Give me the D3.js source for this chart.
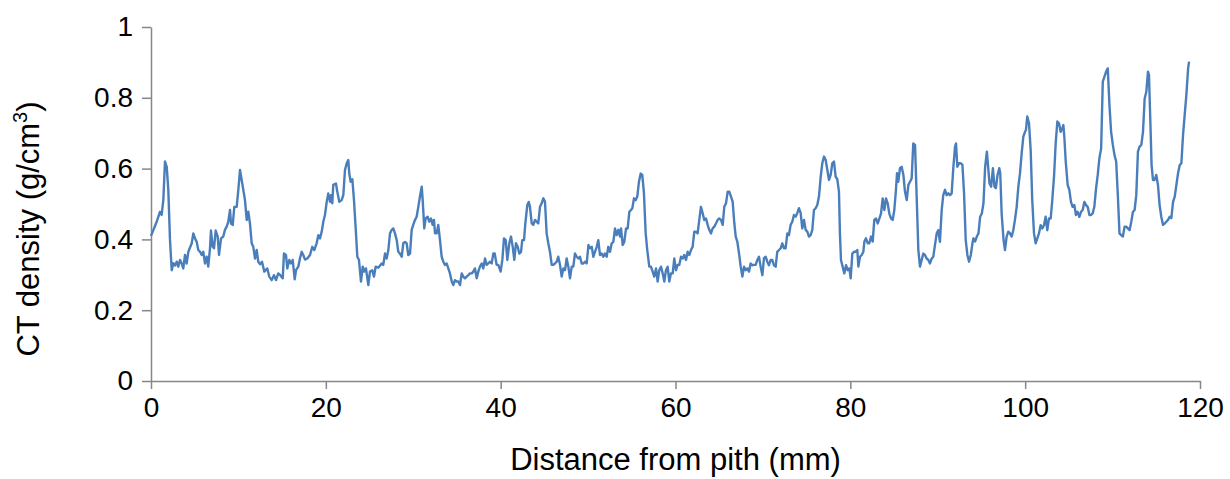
<!DOCTYPE html>
<html>
<head>
<meta charset="utf-8">
<script src="https://cdn.jsdelivr.net/npm/d3@7"></script>
<style>
  html, body { margin: 0; padding: 0; background: #fff; }
  svg { display: block; }
  text { font-family: "Liberation Sans", Arial, sans-serif; fill: #000; }
</style>
</head>
<body>
<svg id="chart" width="1230" height="479"></svg>
<script>
const distance = [0.00,0.65,1.03,1.22,1.41,1.60,1.80,1.98,2.17,2.37,2.55,2.75,2.94,3.12,3.32,3.51,3.69,3.89,4.08,4.27,4.66,4.84,5.03,5.23,5.41,5.61,5.80,5.98,6.18,6.37,6.55,6.75,6.86,7.06,7.21,7.40,7.63,7.78,8.01,8.27,8.46,8.66,8.84,9.04,9.15,9.35,9.53,9.80,9.99,10.18,10.44,10.75,10.95,11.13,11.32,11.52,11.70,11.90,12.09,12.27,12.47,12.70,12.96,13.30,13.53,13.81,14.07,14.30,14.56,14.79,15.07,15.21,15.44,15.59,15.82,16.01,16.21,16.44,16.59,16.85,17.04,17.24,17.42,17.62,17.88,18.19,18.45,18.68,18.95,19.14,19.33,19.53,19.71,19.90,20.10,20.28,20.48,20.59,20.74,20.85,21.16,21.31,21.54,21.81,22.00,22.19,22.39,22.57,22.68,22.84,23.03,23.22,23.45,23.60,23.79,24.02,24.22,24.40,24.59,24.86,25.05,25.31,25.51,25.70,26.00,26.39,26.57,26.77,26.96,27.15,27.34,27.54,27.72,27.91,28.11,28.29,28.48,28.68,28.86,29.06,29.25,29.43,29.63,29.82,30.00,30.20,30.39,30.58,30.77,30.97,31.08,31.26,31.42,31.65,31.83,32.03,32.22,32.37,32.49,32.68,32.86,33.06,33.25,33.44,33.63,33.82,34.01,34.20,34.40,34.58,34.77,34.97,35.15,35.35,35.54,35.72,35.92,36.11,36.30,36.49,36.69,36.87,37.06,37.26,37.44,37.63,37.83,38.01,38.21,38.40,38.58,38.78,38.97,39.16,39.32,39.54,39.73,40.00,40.19,40.38,40.58,40.76,40.99,41.18,41.38,41.56,41.75,41.95,42.13,42.33,42.47,42.67,42.82,43.05,43.21,43.35,43.55,43.73,43.93,44.12,44.30,44.50,44.69,44.88,45.07,45.26,45.45,45.64,45.84,46.02,46.21,46.41,46.59,46.79,46.98,47.17,47.36,47.55,47.74,47.93,48.13,48.31,48.50,48.70,48.89,49.07,49.27,49.46,49.65,49.84,50.04,50.22,50.42,50.60,50.79,50.99,51.17,51.36,51.56,51.74,51.93,52.13,52.31,52.51,52.70,52.89,53.08,53.27,53.46,53.65,53.77,53.96,54.14,54.34,54.53,54.72,54.91,55.06,55.25,55.45,55.63,55.82,56.02,56.20,56.39,56.59,56.77,57.00,57.19,57.39,57.57,57.77,57.96,58.14,58.34,58.53,58.72,58.91,59.10,59.29,59.48,59.68,59.86,60.06,60.25,60.43,60.63,60.82,61.00,61.20,61.39,61.58,61.77,61.96,62.15,62.34,62.53,62.72,62.91,63.11,63.29,63.49,63.68,63.86,64.06,64.25,64.44,64.63,64.82,65.01,65.20,65.40,65.58,65.78,65.97,66.15,66.35,66.54,66.73,66.89,67.07,67.27,67.46,67.65,67.84,68.03,68.22,68.41,68.60,68.79,68.98,69.17,69.36,69.55,69.74,69.94,70.12,70.32,70.50,70.69,70.89,71.07,71.26,71.46,71.64,71.84,72.03,72.22,72.41,72.60,72.79,72.98,73.17,73.36,73.55,73.74,73.93,74.12,74.32,74.50,74.70,74.89,75.08,75.27,75.46,75.65,75.84,76.03,76.22,76.41,76.61,76.79,76.99,77.18,77.37,77.56,77.75,77.94,78.13,78.32,78.51,78.70,78.81,78.93,79.12,79.31,79.51,79.70,79.89,80.04,80.23,80.42,80.61,80.80,80.92,81.10,81.30,81.49,81.60,81.79,81.99,82.17,82.37,82.56,82.74,82.94,83.13,83.32,83.51,83.70,83.89,84.08,84.27,84.46,84.66,84.85,85.03,85.22,85.34,85.49,85.68,85.87,86.07,86.25,86.45,86.64,86.83,87.02,87.20,87.40,87.60,87.78,87.97,88.16,88.35,88.54,88.73,88.92,89.11,89.31,89.49,89.68,89.88,90.06,90.25,90.45,90.63,90.83,91.02,91.21,91.40,91.59,91.79,91.98,92.09,92.24,92.44,92.63,92.82,93.01,93.20,93.39,93.58,93.78,93.97,94.08,94.27,94.47,94.66,94.85,95.04,95.23,95.42,95.62,95.73,95.92,96.11,96.31,96.49,96.65,96.84,97.04,97.15,97.31,97.53,97.69,97.88,98.07,98.26,98.46,98.64,98.83,99.03,99.22,99.41,99.60,99.79,99.98,100.09,100.24,100.44,100.63,100.81,101.01,101.20,101.39,101.58,101.77,101.96,102.15,102.34,102.53,102.72,102.92,103.10,103.30,103.49,103.68,103.87,104.06,104.25,104.37,104.48,104.64,104.86,105.05,105.24,105.43,105.62,105.81,106.00,106.20,106.39,106.58,106.77,106.96,107.15,107.35,107.54,107.73,107.91,108.11,108.30,108.49,108.69,108.88,109.07,109.26,109.45,109.64,109.83,110.03,110.22,110.41,110.60,110.79,110.98,111.18,111.37,111.56,111.75,111.94,112.14,112.33,112.52,112.71,112.90,113.09,113.29,113.48,113.67,113.86,114.05,114.16,114.31,114.46,114.62,114.81,115.00,115.19,115.38,115.57,115.77,115.96,116.15,116.34,116.53,116.72,116.92,117.11,117.30,117.49,117.68,117.87,118.06,118.25,118.44,118.64,118.75];
const density = [0.41,0.45,0.478,0.469,0.511,0.62,0.605,0.54,0.40,0.313,0.333,0.326,0.337,0.323,0.342,0.332,0.318,0.356,0.332,0.365,0.389,0.417,0.403,0.393,0.37,0.365,0.356,0.365,0.332,0.351,0.323,0.375,0.425,0.379,0.375,0.425,0.408,0.356,0.403,0.408,0.427,0.436,0.45,0.483,0.445,0.441,0.492,0.492,0.54,0.596,0.558,0.511,0.455,0.478,0.445,0.389,0.379,0.346,0.37,0.337,0.33,0.337,0.309,0.318,0.295,0.285,0.299,0.285,0.304,0.299,0.29,0.36,0.356,0.318,0.342,0.332,0.342,0.287,0.313,0.323,0.346,0.365,0.356,0.343,0.346,0.356,0.379,0.37,0.389,0.412,0.403,0.422,0.45,0.469,0.506,0.53,0.506,0.525,0.502,0.554,0.558,0.535,0.506,0.511,0.525,0.596,0.615,0.624,0.586,0.563,0.57,0.511,0.417,0.351,0.342,0.281,0.323,0.309,0.318,0.271,0.309,0.313,0.295,0.323,0.32,0.332,0.328,0.36,0.346,0.37,0.417,0.427,0.431,0.417,0.398,0.365,0.36,0.351,0.389,0.393,0.389,0.356,0.36,0.427,0.441,0.455,0.464,0.492,0.521,0.549,0.511,0.431,0.459,0.464,0.45,0.459,0.441,0.455,0.417,0.417,0.441,0.398,0.351,0.337,0.328,0.332,0.318,0.304,0.281,0.271,0.285,0.281,0.281,0.271,0.304,0.295,0.29,0.295,0.299,0.304,0.304,0.309,0.318,0.29,0.309,0.323,0.332,0.318,0.346,0.328,0.332,0.337,0.332,0.36,0.36,0.328,0.328,0.309,0.342,0.403,0.398,0.342,0.389,0.408,0.379,0.342,0.389,0.379,0.36,0.365,0.398,0.398,0.445,0.497,0.506,0.492,0.445,0.441,0.455,0.45,0.445,0.492,0.502,0.516,0.506,0.417,0.389,0.365,0.328,0.328,0.332,0.337,0.351,0.328,0.295,0.318,0.313,0.346,0.323,0.29,0.323,0.323,0.36,0.351,0.346,0.351,0.332,0.332,0.337,0.332,0.384,0.375,0.379,0.351,0.365,0.379,0.398,0.356,0.36,0.351,0.36,0.351,0.379,0.365,0.389,0.393,0.431,0.412,0.427,0.408,0.431,0.384,0.393,0.431,0.431,0.478,0.483,0.488,0.516,0.511,0.521,0.563,0.586,0.582,0.53,0.417,0.37,0.323,0.323,0.309,0.295,0.318,0.281,0.313,0.323,0.304,0.281,0.313,0.323,0.281,0.304,0.304,0.346,0.313,0.328,0.328,0.351,0.346,0.356,0.342,0.365,0.356,0.37,0.379,0.422,0.422,0.417,0.455,0.492,0.474,0.455,0.459,0.441,0.427,0.417,0.431,0.436,0.445,0.455,0.459,0.455,0.441,0.492,0.502,0.535,0.535,0.521,0.506,0.445,0.408,0.394,0.36,0.323,0.295,0.323,0.313,0.318,0.309,0.332,0.327,0.328,0.328,0.342,0.351,0.323,0.299,0.347,0.351,0.337,0.327,0.342,0.342,0.327,0.323,0.365,0.37,0.375,0.389,0.375,0.375,0.417,0.412,0.441,0.45,0.469,0.464,0.474,0.488,0.474,0.431,0.455,0.427,0.422,0.408,0.412,0.427,0.483,0.488,0.497,0.521,0.577,0.615,0.634,0.624,0.596,0.568,0.582,0.615,0.62,0.577,0.57,0.535,0.417,0.342,0.323,0.304,0.327,0.313,0.318,0.29,0.36,0.365,0.365,0.37,0.323,0.351,0.356,0.365,0.393,0.403,0.389,0.389,0.408,0.394,0.455,0.459,0.445,0.459,0.473,0.516,0.483,0.516,0.502,0.473,0.459,0.455,0.483,0.54,0.587,0.563,0.601,0.605,0.582,0.535,0.511,0.554,0.563,0.573,0.671,0.667,0.511,0.37,0.323,0.342,0.36,0.356,0.346,0.342,0.332,0.346,0.351,0.384,0.417,0.426,0.393,0.483,0.525,0.54,0.525,0.53,0.525,0.53,0.605,0.662,0.671,0.605,0.615,0.615,0.611,0.53,0.398,0.356,0.337,0.356,0.389,0.403,0.394,0.408,0.417,0.464,0.473,0.502,0.605,0.648,0.615,0.558,0.549,0.601,0.549,0.545,0.582,0.601,0.587,0.473,0.398,0.37,0.408,0.422,0.417,0.408,0.426,0.455,0.492,0.549,0.587,0.643,0.69,0.704,0.709,0.747,0.728,0.652,0.511,0.417,0.389,0.403,0.417,0.44,0.431,0.44,0.464,0.426,0.459,0.459,0.511,0.577,0.671,0.733,0.728,0.704,0.714,0.723,0.69,0.62,0.554,0.54,0.506,0.492,0.497,0.469,0.478,0.464,0.478,0.483,0.506,0.497,0.492,0.469,0.469,0.474,0.492,0.544,0.582,0.629,0.657,0.846,0.86,0.874,0.883,0.78,0.704,0.667,0.638,0.62,0.525,0.417,0.412,0.408,0.436,0.436,0.431,0.426,0.45,0.478,0.483,0.525,0.648,0.662,0.667,0.704,0.798,0.817,0.874,0.865,0.742,0.61,0.568,0.568,0.582,0.554,0.497,0.464,0.441,0.445,0.45,0.455,0.464,0.46,0.506,0.521,0.554,0.587,0.61,0.615,0.695,0.752,0.808,0.883,0.902];
const xTicks = [0, 20, 40, 60, 80, 100, 120];
const yTicks = [0, 0.2, 0.4, 0.6, 0.8, 1];
const xTitle = "Distance from pith (mm)";
const yTitleMain = "CT density (g/cm";
const yTitleSup = "3";
const yTitleEnd = ")";

const svg = d3.select("#chart");
const mLeft = 151, mRight = 1200, mTop = 27, mBottom = 381;
const x = d3.scaleLinear().domain([0, 120]).range([mLeft, mRight]);
const y = d3.scaleLinear().domain([0, 1]).range([mBottom, mTop]);
const axisColor = "#868686";

const xAxis = svg.append("g").attr("transform", `translate(0,${mBottom})`)
  .call(d3.axisBottom(x).tickValues(xTicks).tickSize(8).tickPadding(8).tickSizeOuter(0).tickFormat(d3.format("d")));
const yAxis = svg.append("g").attr("transform", `translate(${mLeft},0)`)
  .call(d3.axisLeft(y).tickValues(yTicks).tickSize(9).tickPadding(9).tickSizeOuter(0).tickFormat(d => d === 0 || d === 1 ? String(d) : d.toFixed(1)));
[xAxis, yAxis].forEach(g => {
  g.selectAll("path, line").attr("stroke", axisColor).attr("stroke-width", 1.5);
  g.selectAll("text").attr("font-size", 28).attr("font-family", "Liberation Sans, Arial, sans-serif").attr("fill", "#000");
});

const n = Math.min(distance.length, density.length);
const pts = d3.range(n).map(i => [distance[i], density[i]]);
const line = d3.line().x(d => x(d[0])).y(d => y(d[1]));
svg.append("path").datum(pts).attr("d", line)
  .attr("fill", "none").attr("stroke", "#4a7ebb").attr("stroke-width", 2.4)
  .attr("stroke-linejoin", "round");

svg.append("text").attr("x", (mLeft + mRight) / 2).attr("y", 470)
  .attr("text-anchor", "middle").attr("font-size", 31).text(xTitle);

const yt = svg.append("text").attr("transform", "translate(39,229) rotate(-90)")
  .attr("text-anchor", "middle").attr("font-size", 31);
yt.append("tspan").text(yTitleMain);
yt.append("tspan").attr("font-size", 20).attr("dy", -12).text(yTitleSup);
yt.append("tspan").attr("dy", 12).text(yTitleEnd);

if (distance.length !== density.length) {
  throw new Error("length mismatch: distance=" + distance.length + " density=" + density.length);
}
</script>
</body>
</html>
